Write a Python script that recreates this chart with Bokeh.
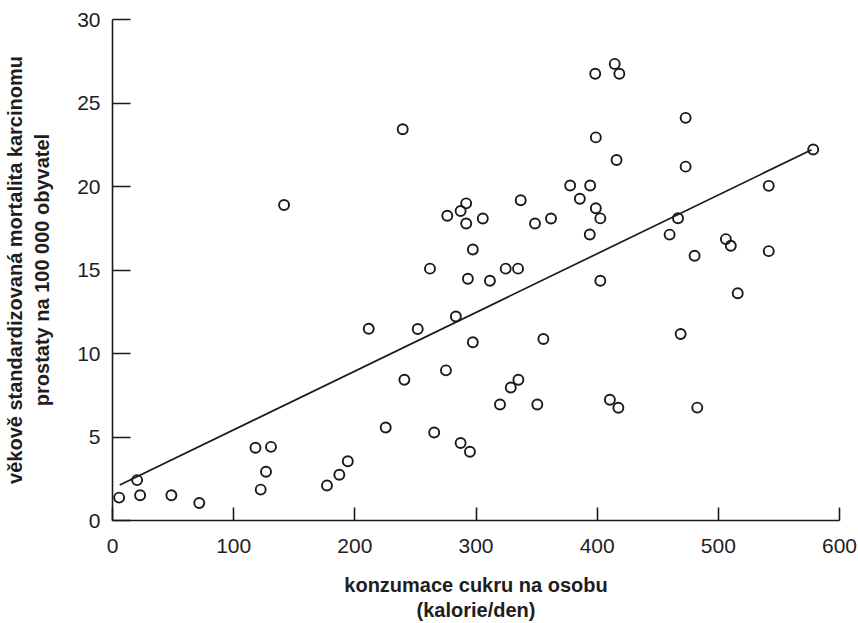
from bokeh.plotting import figure
from bokeh.models import FixedTicker, Range1d
from bokeh.embed import file_html
from bokeh.resources import INLINE

# sugar consumption per person (calories/day)
sugar = [5.5, 20.3, 22.8, 48.6, 71.6, 118.0, 130.8, 126.7, 122.3, 141.6,
         177.0, 187.2, 194.2, 211.5, 225.5, 239.5, 240.9, 251.9, 262.0, 265.5,
         275.2, 276.3, 283.4, 287.3, 287.3, 291.9, 291.9, 293.3, 295.0, 297.4,
         297.4, 305.6, 311.5, 319.8, 324.5, 328.7, 334.7, 335.0, 336.9, 348.7,
         350.6, 355.6, 361.9, 377.7, 385.7, 394.2, 393.9, 398.4, 398.9, 398.9,
         402.6, 402.6, 410.5, 414.5, 416.0, 418.3, 417.5, 459.8, 466.7, 468.9,
         473.0, 473.0, 480.4, 482.6, 506.2, 510.3, 516.0, 541.6, 541.6, 578.3]
# age-standardized prostate cancer mortality per 100 000
mortality = [1.37, 2.42, 1.51, 1.51, 1.05, 4.36, 4.41, 2.92, 1.85, 18.89,
             2.10, 2.74, 3.55, 11.48, 5.57, 23.43, 8.43, 11.47, 15.08, 5.27,
             8.99, 18.25, 12.22, 18.53, 4.64, 18.99, 17.78, 14.48, 4.12, 16.23,
             10.67, 18.08, 14.36, 6.95, 15.08, 7.96, 15.08, 8.43, 19.18, 17.78,
             6.95, 10.87, 18.08, 20.06, 19.27, 20.06, 17.13, 26.75, 22.94, 18.70,
             18.09, 14.36, 7.23, 27.34, 21.59, 26.75, 6.75, 17.12, 18.10, 11.17,
             24.11, 21.19, 15.85, 6.76, 16.85, 16.45, 13.61, 20.04, 16.13, 22.22]
# regression line end points
fit_x = [6.0, 577.0]
fit_y = [2.12, 22.2]

x_ticks = [0, 100, 200, 300, 400, 500, 600]
y_ticks = [0, 5, 10, 15, 20, 25, 30]
x_title = "konzumace cukru na osobu\n(kalorie/den)"
y_title = "věkově standardizovaná mortalita karcinomu\nprostaty na 100 000 obyvatel"

INK = "#1a1a1a"
TXT = "#1e1e1e"
FONT = "Liberation Sans"

p = figure(width=858, height=623, output_backend="svg", toolbar_location=None,
           x_range=Range1d(0, 600), y_range=Range1d(0, 30),
           min_border_left=108, min_border_right=19, min_border_top=19,
           min_border_bottom=101)
p.outline_line_color = None
p.xgrid.visible = False
p.ygrid.visible = False

p.line(fit_x, fit_y, line_color=INK, line_width=1.7)
p.scatter(sugar, mortality, marker="circle", size=10, fill_color=None,
          line_color=INK, line_width=1.9)

for ax in (p.xaxis[0], p.yaxis[0]):
    ax.axis_line_color = INK
    ax.axis_line_width = 1.6
    ax.major_tick_line_color = INK
    ax.major_tick_line_width = 1.6
    ax.minor_tick_line_color = None
    ax.major_tick_out = 0
    ax.major_label_text_font = FONT
    ax.major_label_text_font_size = "21px"
    ax.major_label_text_color = TXT
    ax.axis_label_text_font = FONT
    ax.axis_label_text_font_size = "20px"
    ax.axis_label_text_font_style = "bold"
    ax.axis_label_text_color = TXT

p.xaxis.ticker = FixedTicker(ticks=x_ticks)
p.yaxis.ticker = FixedTicker(ticks=y_ticks)
p.xaxis.major_tick_in = 13
p.yaxis.major_tick_in = 18
p.xaxis.major_label_standoff = 18
p.yaxis.major_label_standoff = 12
p.xaxis.axis_label = x_title
p.xaxis.axis_label_standoff = 18
p.xaxis.axis_label_text_line_height = 1.15
p.yaxis.axis_label = y_title
p.yaxis.axis_label_standoff = 21
p.yaxis.axis_label_text_line_height = 1.25

open("out.html", "w").write(file_html(p, INLINE))
